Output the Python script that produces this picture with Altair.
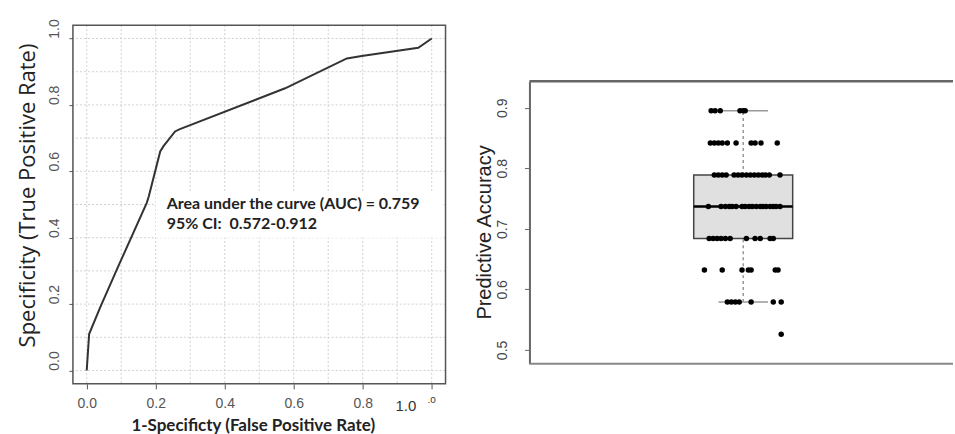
import altair as alt
import pandas as pd

# ---------------- data ----------------
# ROC curve (left panel)
fpr = [0.0, 0.007, 0.039, 0.092, 0.174, 0.180, 0.213, 0.222, 0.256, 0.270, 0.575, 0.754, 0.797, 0.961, 1.0]
tpr = [0.0, 0.110, 0.190, 0.315, 0.505, 0.525, 0.660, 0.675, 0.720, 0.727, 0.850, 0.940, 0.947, 0.972, 1.0]
roc_ticks = [0.0, 0.2, 0.4, 0.6, 0.8, 1.0]
roc_grid = [0.0, 0.1, 0.2, 0.3, 0.4, 0.5, 0.6, 0.7, 0.8, 0.9, 1.0]
auc_lines = ["Area under the curve (AUC) = 0.759", "95% CI:\u00a0 0.572-0.912"]
extra_xlabels = ["1.0", ".0"]
extra_xlabel_pos = [0.925, 1.0]

# Predictive accuracy (right panel): levels and horizontal jitter of each point
acc_levels = [0.895, 0.842, 0.789, 0.737, 0.684, 0.632, 0.579, 0.526]
acc_jitter = [
    [-0.081, -0.071, -0.058, -0.008, 0.000, 0.005],
    [-0.083, -0.073, -0.063, -0.053, -0.040, -0.018, 0.020, 0.030, 0.045, 0.086],
    [-0.073, -0.063, -0.053, -0.043, -0.023, -0.013, -0.003, 0.008, 0.018, 0.028,
     0.038, 0.048, 0.056, 0.066, 0.093],
    [-0.088, -0.056, -0.045, -0.035, -0.028, -0.018, -0.003, 0.005, 0.015, 0.023,
     0.033, 0.043, 0.050, 0.058, 0.068, 0.076, 0.083, 0.093],
    [-0.086, -0.076, -0.066, -0.056, -0.045, -0.033, 0.008, 0.030, 0.043, 0.068, 0.076],
    [-0.098, -0.053, -0.003, 0.013, 0.020, 0.081, 0.088],
    [-0.040, -0.030, -0.020, -0.010, 0.020, 0.076, 0.096],
    [0.096],
]
box_stats = {"lo": 0.579, "q1": 0.684, "med": 0.737, "q3": 0.789, "hi": 0.895}
acc_ticks = [0.5, 0.6, 0.7, 0.8, 0.9]
acc_frame = [0.477, 0.944]  # lower / upper edge of the plotting region

# ---------------- tables ----------------
roc_df = pd.DataFrame({"fpr": fpr, "tpr": tpr})
grid_df = pd.DataFrame({"g": roc_grid})
ann_df = pd.DataFrame({"x": [0.232, 0.232], "y": [0.502, 0.442], "t": auc_lines})
annbg_df = pd.DataFrame({"x": [0.20], "x2": [1.035], "y": [0.40], "y2": [0.54]})
xlab1_df = pd.DataFrame({"x": [extra_xlabel_pos[0]], "t": [extra_xlabels[0]]})
xlab2_df = pd.DataFrame({"x": [extra_xlabel_pos[1]], "t": [extra_xlabels[1]]})
one_df = pd.DataFrame({"a": [0]})

pts = []
for lvl, offs in zip(acc_levels, acc_jitter):
    for o in offs:
        pts.append({"x": 1.0 + o, "acc": lvl})
pts_df = pd.DataFrame(pts)
box_df = pd.DataFrame({"x": [0.875], "x2": [1.125], "q1": [box_stats["q1"]], "q3": [box_stats["q3"]]})
med_df = pd.DataFrame({"x": [0.875], "x2": [1.125], "y": [box_stats["med"]]})
whisk_df = pd.DataFrame({"x": [1.0, 1.0], "y": [box_stats["q3"], box_stats["lo"]],
                         "y2": [box_stats["hi"], box_stats["q1"]]})
staple_df = pd.DataFrame({"x": [0.9375, 0.9375], "x2": [1.0625, 1.0625],
                          "y": [box_stats["hi"], box_stats["lo"]]})
top_df = pd.DataFrame({"y": [acc_frame[1]]})
bot_df = pd.DataFrame({"y": [acc_frame[0]]})

# ---------------- left panel ----------------
LW, LH = 373, 359
XS = alt.Scale(domain=[-0.04, 1.04], nice=False, zero=False)
YS = alt.Scale(domain=[-0.04, 1.04], nice=False, zero=False)

x_axis = alt.Axis(
    values=roc_ticks, format=".1f", labelExpr="datum.value >= 1 ? '' : datum.label",
    grid=False, domain=False, tickSize=5, tickColor="#555", tickWidth=1,
    labelFont="Liberation Sans", labelFontSize=14, labelColor="#555", labelPadding=8,
    title="1-Specificty (False Positive Rate)", titleFont="Lato", titleFontWeight="bold",
    titleFontSize=17, titleColor="#222", titleX=180, titleY=42, titleBaseline="middle",
    titleAlign="center",
)
y_axis = alt.Axis(
    values=roc_ticks, format=".1f", grid=False, domain=False, tickSize=4, tickColor="#555",
    labelAngle=270, labelAlign="center", labelBaseline="alphabetic", labelPadding=10,
    labelOffset=-10, labelFont="Liberation Sans", labelFontSize=14, labelColor="#555",
    title="Specificity (True Positive Rate)", titleFont="Open Sans", titleFontSize=22,
    titleFontWeight="normal", titleColor="#222", titleAngle=270, titleBaseline="alphabetic",
    titleAlign="center", titleX=-38, titleY=170,
)


def LX(f):
    return alt.X(f, scale=XS, axis=x_axis)


def LY(f):
    return alt.Y(f, scale=YS, axis=y_axis)


vgrid = alt.Chart(grid_df).mark_rule(color="#d0d0d0", strokeDash=[2, 2], strokeWidth=1).encode(
    x=LX("g:Q")
)
hgrid = alt.Chart(grid_df).mark_rule(color="#d0d0d0", strokeDash=[2, 2], strokeWidth=1).encode(
    y=LY("g:Q")
)
annbg = alt.Chart(annbg_df).mark_rect(color="white").encode(
    x=LX("x:Q"), x2="x2:Q", y=LY("y:Q"), y2="y2:Q",
)
roc_line = alt.Chart(roc_df).mark_line(color="#333", strokeWidth=2).encode(
    x=LX("fpr:Q"), y=LY("tpr:Q"), order="fpr:Q",
)
ann = alt.Chart(ann_df).mark_text(
    align="left", baseline="middle", font="Lato", fontWeight="bold", fontSize=16, color="#222"
).encode(x=LX("x:Q"), y=LY("y:Q"), text="t:N")
xlab1 = alt.Chart(xlab1_df).mark_text(
    font="Liberation Sans", fontSize=15, color="#333", baseline="middle"
).encode(x=LX("x:Q"), y=alt.value(381), text="t:N")
xlab2 = alt.Chart(xlab2_df).mark_text(
    font="Liberation Sans", fontSize=10, color="#333", baseline="middle"
).encode(x=LX("x:Q"), y=alt.value(375), text="t:N")
frame = alt.Chart(one_df).mark_rect(filled=False, stroke="#555", strokeWidth=1.5).encode(
    x=alt.value(0), x2=alt.value(LW), y=alt.value(0), y2=alt.value(LH)
)

left = alt.layer(vgrid, hgrid, annbg, roc_line, ann, xlab1, xlab2, frame).properties(
    width=LW, height=LH
)

# ---------------- right panel ----------------
RW = 424
RXS = alt.Scale(domain=[0.46, 1.53], nice=False, zero=False)
RYS = alt.Scale(domain=acc_frame, nice=False, zero=False, range=[339, 56])

ry_axis = alt.Axis(
    values=acc_ticks, format=".1f", grid=False, domain=True, domainColor="#666", domainWidth=2,
    tickSize=5, tickColor="#666", labelAngle=270, labelAlign="center", labelBaseline="alphabetic",
    labelPadding=18, labelFont="Liberation Sans", labelFontSize=14, labelColor="#444",
    title="Predictive Accuracy", titleFont="Liberation Sans", titleFontSize=20,
    titleFontWeight="normal", titleColor="#222", titleAngle=270, titleBaseline="alphabetic",
    titleAlign="center", titleX=-39, titleY=207,
)


def RX(f):
    return alt.X(f, scale=RXS, axis=None)


def RY(f):
    return alt.Y(f, scale=RYS, axis=ry_axis)


box = alt.Chart(box_df).mark_rect(fill="#e0e0e0", stroke="#444", strokeWidth=1.5).encode(
    x=RX("x:Q"), x2="x2:Q", y=RY("q1:Q"), y2="q3:Q",
)
whisk = alt.Chart(whisk_df).mark_rule(color="#888", strokeDash=[3, 3], strokeWidth=1.3).encode(
    x=RX("x:Q"), y=RY("y:Q"), y2="y2:Q"
)
staple = alt.Chart(staple_df).mark_rule(color="#999", strokeWidth=1.5).encode(
    x=RX("x:Q"), x2="x2:Q", y=RY("y:Q")
)
median = alt.Chart(med_df).mark_rule(color="black", strokeWidth=2.5).encode(
    x=RX("x:Q"), x2="x2:Q", y=RY("y:Q")
)
points = alt.Chart(pts_df).mark_circle(size=30, color="black", opacity=1).encode(
    x=RX("x:Q"), y=RY("acc:Q")
)
topline = alt.Chart(top_df).mark_rule(color="#666", strokeWidth=2.5).encode(
    y=RY("y:Q"), x=alt.value(0), x2=alt.value(RW)
)
botline = alt.Chart(bot_df).mark_rule(color="#888", strokeWidth=2).encode(
    y=RY("y:Q"), x=alt.value(0), x2=alt.value(RW)
)

right = alt.layer(box, whisk, staple, median, points, topline, botline).properties(
    width=RW, height=LH
)

chart = (
    alt.HConcatChart(hconcat=[left, right], spacing=84, bounds="flush")
    .properties(
        padding={"left": 16, "top": 18, "right": 0, "bottom": 0},
        background="white",
    )
    .configure_view(strokeWidth=0)
)

chart.save("out.html", embed_options={"renderer": "svg", "actions": False})
